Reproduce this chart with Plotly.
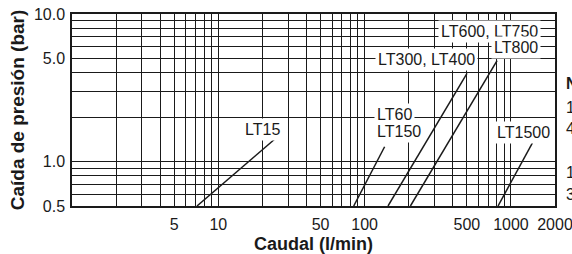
import math
import plotly.graph_objects as go

# ---- data ----
x_tick_vals = [5, 10, 50, 100, 500, 1000, 2000]
x_tick_text = ["5", "10", "50", "100", "500", "1000", "2000"]
x_minor_grid = [2, 3, 4, 6, 7, 8, 9, 20, 30, 40, 60, 70, 80, 90,
                200, 300, 400, 600, 700, 800, 900]
y_tick_vals = [0.5, 1, 5, 10]
y_tick_text = ["0.5", "1.0", "5.0", "10.0"]
y_minor_grid = [0.6, 0.7, 0.8, 0.9, 2, 3, 4, 6, 7, 8, 9]

lt15_x = [7.15, 24.7]
lt15_y = [0.5, 1.44]
lt60_150_x = [84.2, 137]
lt60_150_y = [0.5, 1.26]
lt300_400_x = [144.5, 501]
lt300_400_y = [0.5, 3.96]
lt600_800_x = [205.6, 804]
lt600_800_y = [0.5, 4.83]
lt1500_x = [816, 1403]
lt1500_y = [0.5, 1.34]

label_text = ["LT15", "LT60", "LT150", "LT300, LT400", "LT600, LT750", "LT800", "LT1500"]
label_x = [20.2, 115.4, 115.4, 266, 713, 1083, 1223]
label_y = [1.66, 2.07, 1.59, 4.88, 7.59, 5.91, 1.57]
label_anchor = ["center", "left", "left", "center", "center", "center", "center"]

side_text = ["<b>N</b>", "1", "4", "1", "3"]
side_rows_px = [84, 107, 128, 172, 194]

FONT = "Liberation Sans, Arial, Helvetica, sans-serif"
INK = "#1a1a1a"

W, H = 572, 254
ml, mr, mt, mb = 72, 17, 14, 48

fig = go.Figure()
for xs, ys, nm in [(lt15_x, lt15_y, "LT15"), (lt60_150_x, lt60_150_y, "LT60, LT150"),
                   (lt300_400_x, lt300_400_y, "LT300, LT400"),
                   (lt600_800_x, lt600_800_y, "LT600, LT750, LT800"),
                   (lt1500_x, lt1500_y, "LT1500")]:
    fig.add_trace(go.Scatter(x=xs, y=ys, mode="lines", name=nm,
                             line=dict(color=INK, width=1.5), showlegend=False,
                             hoverinfo="skip"))

for t, x, y, a in zip(label_text, label_x, label_y, label_anchor):
    fig.add_annotation(x=math.log10(x), y=math.log10(y), xref="x", yref="y", text=t,
                       showarrow=False, xanchor=a, yanchor="middle", bgcolor="white",
                       borderpad=2, font=dict(family=FONT, size=16, color=INK))

plot_h = H - mt - mb
for t, py in zip(side_text, side_rows_px):
    fig.add_annotation(x=(564 - ml) / (W - ml - mr), y=1 - (py - mt) / plot_h,
                       xref="paper", yref="paper", text=t, showarrow=False,
                       xanchor="left", yanchor="middle",
                       font=dict(family=FONT, size=16, color=INK))

fig.update_layout(
    width=W, height=H,
    margin=dict(l=ml, r=mr, t=mt, b=mb, autoexpand=False),
    paper_bgcolor="white", plot_bgcolor="white",
    font=dict(family=FONT, color=INK),
    xaxis=dict(type="log", range=[0, 3.3012], tickvals=x_tick_vals, ticktext=x_tick_text,
               automargin=False, ticklabeloverflow="allow",
               showgrid=True, gridcolor=INK, gridwidth=1,
               minor=dict(tickvals=x_minor_grid, showgrid=True, gridcolor=INK, gridwidth=1, ticks=""),
               showline=True, mirror=True, linecolor=INK, linewidth=1.5,
               ticks="outside", ticklen=3, tickcolor="rgba(0,0,0,0)",
               tickfont=dict(family=FONT, size=16, color=INK), zeroline=False,
               title=dict(text="<b>Caudal (l/min)</b>", font=dict(family=FONT, size=18, color=INK),
                          standoff=12)),
    yaxis=dict(type="log", range=[-0.30103, 1.0001], tickvals=y_tick_vals, ticktext=y_tick_text,
               automargin=False,
               showgrid=True, gridcolor=INK, gridwidth=1,
               minor=dict(tickvals=y_minor_grid, showgrid=True, gridcolor=INK, gridwidth=1, ticks=""),
               showline=True, mirror=True, linecolor=INK, linewidth=1.5,
               ticks="outside", ticklen=2, tickcolor="rgba(0,0,0,0)",
               tickfont=dict(family=FONT, size=16, color=INK), zeroline=False,
               title=dict(text="<b>Caída de presión (bar)</b>", font=dict(family=FONT, size=19, color=INK),
                          standoff=4)),
)

fig.write_html("out.html", config={"displayModeBar": False},
               post_script="document.body.style.margin='0';document.body.style.overflow='hidden';")
